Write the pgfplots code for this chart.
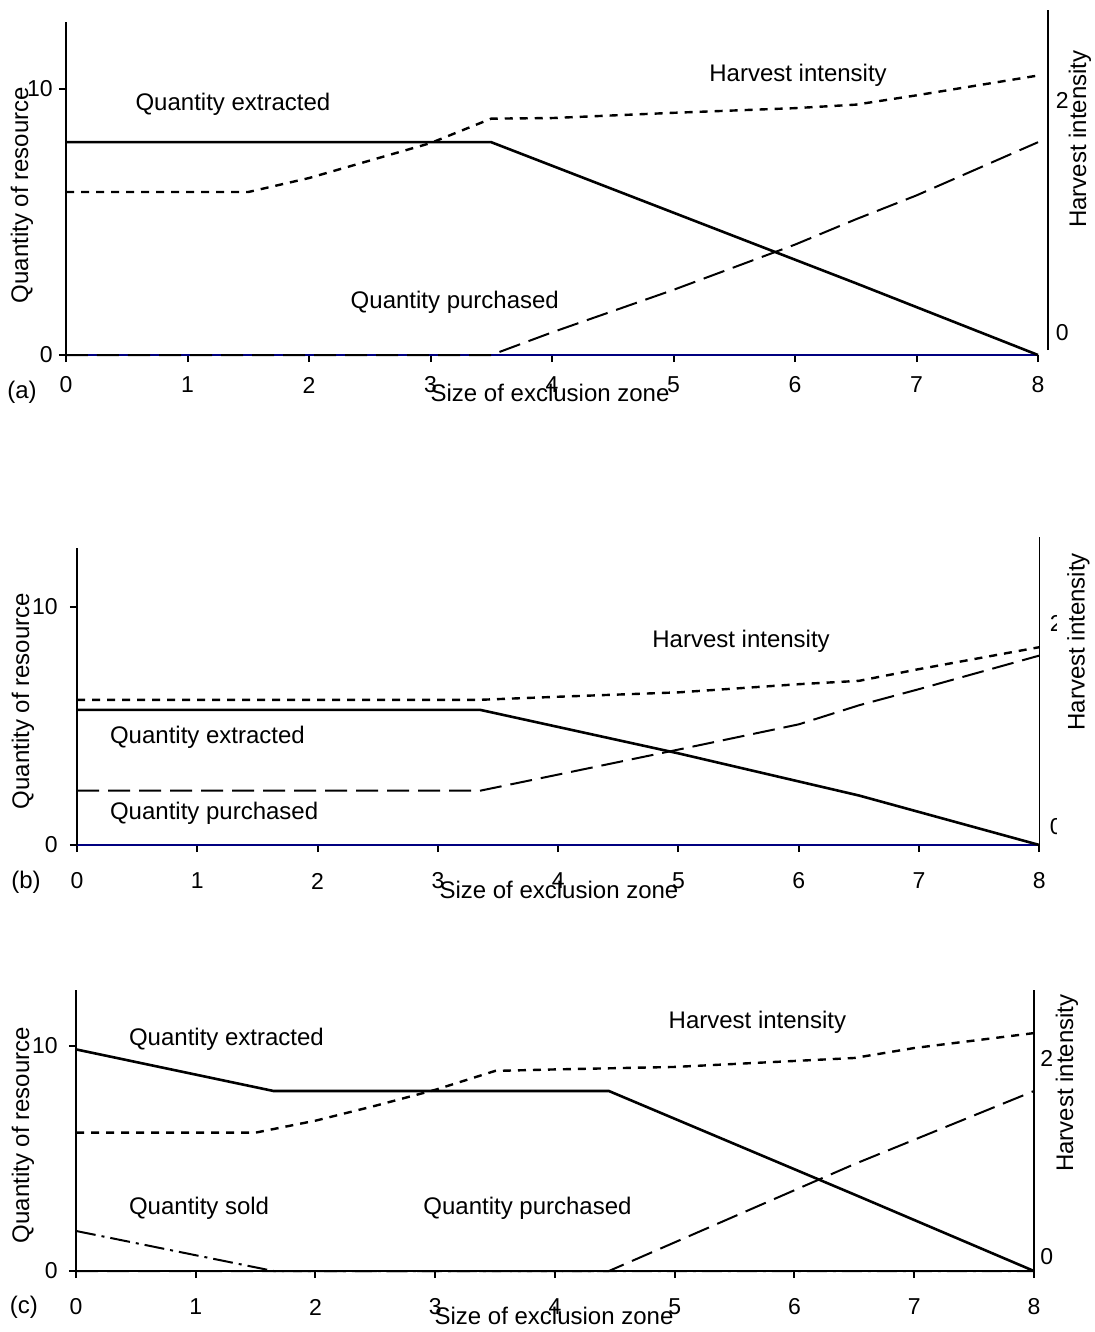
\documentclass[border=0pt]{standalone}
\usepackage{fontspec}
\setmainfont{Liberation Sans}
\usepackage{pgfplots}
\pgfplotsset{compat=1.18}
\definecolor{navy}{RGB}{0,0,128}

\pgfplotsset{
  panel/.style={
    scale only axis, clip=false, anchor=south west,
    xmin=0, xmax=8, ymin=0, ymax=12.5,
    axis x line*=bottom, axis y line*=left,
    xtick={0,1,...,8}, ytick={0,10},
    tick align=outside, major tick length=3.5pt,
    tick style={black, line width=1pt},
    axis line style={line width=1.2pt},
    tick label style={font=\fontsize{11.5}{13}\selectfont},
    label style={font=\fontsize{12}{14}\selectfont},
    /pgf/number format/assume math mode=true,
  },
  rpanel/.style={
    scale only axis, clip=false, anchor=south west,
    xmin=0, axis x line=none, axis y line*=right,
    ytick={0,2}, major tick length=0pt,
    axis line style={line width=0.8pt},
    tick label style={font=\fontsize{11.5}{13}\selectfont},
    label style={font=\fontsize{12}{14}\selectfont},
    /pgf/number format/assume math mode=true,
  },
  extracted/.style={black, line width=1.3pt},
  purchased/.style={black, line width=1pt, dash pattern=on 11pt off 4.5pt},
  intensity/.style={black, line width=1.2pt, dash pattern=on 4pt off 3.5pt},
  sold/.style={black, line width=1pt, dash pattern=on 10pt off 3pt on 1.5pt off 3pt},
}

\begin{document}
\begin{tikzpicture}[font=\fontsize{12}{14}\selectfont]
\useasboundingbox (0pt,0pt) rectangle (547pt,-666pt);

% ---------------- panel (a) ----------------
\begin{axis}[panel, at={(33pt,-177.5pt)}, width=486pt, height=166.25pt,
  x axis line style={draw=navy},
  xticklabel style={anchor=center, yshift=-11.5pt},
  yticklabel style={anchor=east, inner sep=0pt, xshift=-3pt},
  xlabel={Size of exclusion zone},
  xlabel style={at={(axis description cs:0.498,-0.1143)}, anchor=center},
  ylabel={Quantity of resource},
  ylabel style={at={(axis description cs:-0.0453,0.481)}, anchor=center}]
\addplot[extracted] coordinates {(0,8) (3.5,8) (6.5,2.7) (8,0)};
\addplot[purchased] coordinates {(0,0) (3.5,0) (4,0.85) (5,2.45) (6,4.15) (6.5,5.1) (7,6.0) (8,8.0)};
\node at (axis cs:1.374,9.44) {Quantity extracted};
\node at (axis cs:6.025,10.53) {Harvest intensity};
\node at (axis cs:3.20,1.99) {Quantity purchased};
\node at (axis description cs:-0.0453,-0.111) {(a)};
\end{axis}
\begin{axis}[rpanel, at={(33pt,-175pt)}, width=491pt, height=170pt,
  xmax=8.0823, ymin=-0.1459, ymax=2.7725,
  yticklabel style={anchor=west, inner sep=0pt, xshift=3.75pt},
  ylabel={Harvest intensity},
  ylabel style={at={(axis description cs:1.0326,0.6206)}, anchor=center}]
\addplot[intensity] coordinates {(0,1.21) (1.5,1.21) (2,1.33) (2.5,1.48) (3,1.63) (3.5,1.84) (4,1.845) (5,1.89) (6,1.93) (6.5,1.96) (7,2.04) (8,2.21)};
\end{axis}

% ---------------- panel (b) ----------------
\begin{axis}[panel, at={(38.5pt,-422.5pt)}, width=481.2pt, height=148.75pt,
  x axis line style={draw=navy},
  xticklabel style={anchor=center, yshift=-14.5pt},
  yticklabel style={anchor=east, inner sep=0pt, xshift=-6pt},
  xlabel={Size of exclusion zone},
  xlabel style={at={(axis description cs:0.5008,-0.151)}, anchor=center},
  ylabel={Quantity of resource},
  ylabel style={at={(axis description cs:-0.0561,0.484)}, anchor=center}]
\addplot[extracted] coordinates {(0,5.68) (3.35,5.68) (5,3.85) (6.5,2.08) (8,0)};
\addplot[purchased] coordinates {(0,2.28) (3.35,2.28) (4,2.96) (5,4.01) (6,5.07) (6.5,5.87) (7,6.55) (8,7.96)};
\node[anchor=west] at (axis cs:0.216,4.54) {Quantity extracted};
\node[anchor=west] at (axis cs:0.216,1.34) {Quantity purchased};
\node at (axis cs:5.52,8.57) {Harvest intensity};
\node at (axis description cs:-0.053,-0.124) {(b)};
\end{axis}
\begin{axis}[rpanel, at={(38.5pt,-422.5pt)}, width=481.2pt, height=154pt,
  xmax=8, ymin=-0.1765, ymax=2.843,
  yticklabel style={anchor=west, inner sep=0pt, xshift=5pt},
  ylabel={\makebox[154pt][r]{Harvest intensity\hspace{8pt}}},
  ylabel style={at={(axis description cs:1.0406,0.5)}, anchor=center,
    fill=white, inner sep=0pt, minimum height=21.5pt}]
\addplot[intensity] coordinates {(0,1.247) (3.35,1.247) (4,1.277) (5,1.32) (6,1.40) (6.5,1.433) (7,1.548) (8,1.763)};
\end{axis}

% ---------------- panel (c) ----------------
\begin{axis}[panel, at={(38pt,-635.5pt)}, width=479pt, height=140.625pt,
  xticklabel style={anchor=center, yshift=-14.5pt},
  yticklabel style={anchor=east, inner sep=0pt, xshift=-5.5pt},
  xlabel={Size of exclusion zone},
  xlabel style={at={(axis description cs:0.499,-0.16)}, anchor=center},
  ylabel={Quantity of resource},
  ylabel style={at={(axis description cs:-0.0553,0.4836)}, anchor=center}]
\addplot[extracted] coordinates {(0,9.85) (1.65,8) (4.45,8) (6.5,3.4) (8,0)};
\addplot[purchased] coordinates {(0,0) (4.45,0) (6.5,4.75) (8,8)};
\addplot[sold] coordinates {(0,1.78) (1.65,0) (8,0)};
\node[anchor=west] at (axis cs:0.384,10.31) {Quantity extracted};
\node[anchor=west] at (axis cs:0.384,2.8) {Quantity sold};
\node at (axis cs:3.77,2.8) {Quantity purchased};
\node at (axis cs:5.69,11.07) {Harvest intensity};
\node at (axis description cs:-0.0543,-0.128) {(c)};
\end{axis}
\begin{axis}[rpanel, at={(38pt,-635.5pt)}, width=479pt, height=140.5pt,
  xmax=8, ymin=-0.1407, ymax=2.683,
  yticklabel style={anchor=west, inner sep=0pt, xshift=3pt},
  ylabel={Harvest intensity},
  ylabel style={at={(axis description cs:1.0344,0.669)}, anchor=center}]
\addplot[intensity] coordinates {(0,1.25) (1.5,1.25) (2,1.37) (2.5,1.52) (3,1.68) (3.5,1.87) (4,1.885) (5,1.91) (6,1.97) (6.5,2.00) (7,2.10) (8,2.25)};
\end{axis}
\end{tikzpicture}
\end{document}
